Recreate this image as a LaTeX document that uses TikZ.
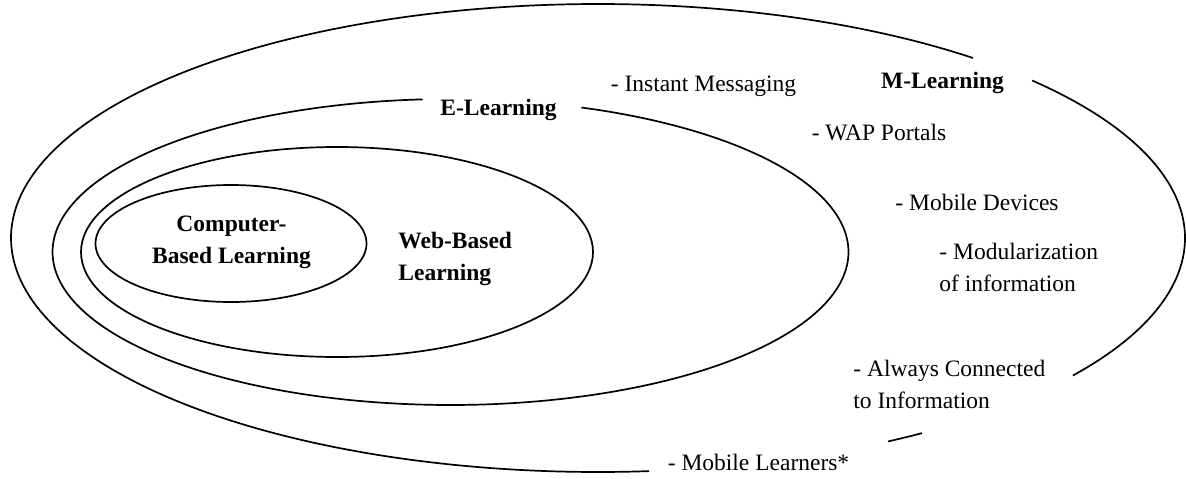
\documentclass[tikz,border=0pt]{standalone}
\usepackage{fontspec}
\setmainfont{Liberation Serif}
\begin{document}
\begin{tikzpicture}[x=0.5pt,y=0.5pt,
  line/.style={line width=0.85pt},
  lbl/.style={font=\fontsize{11.75}{15.75}\selectfont, inner sep=0pt},
  bold/.style={font=\fontsize{11.75}{15.75}\selectfont\bfseries, inner sep=0pt}]
\useasboundingbox (0,0) rectangle (1186,478);
% outer ellipse (M-Learning), with gaps
\draw[line] plot[domain=50.3:275,samples=200,smooth] ({598+587*cos(\x)},{240+234*sin(\x)});
\draw[line] plot[domain=42.3:-36,samples=100,smooth] ({598+587*cos(\x)},{240+234*sin(\x)});
\draw[line] plot[domain=-56.5:-60.4,samples=10,smooth] ({598+587*cos(\x)},{240+234*sin(\x)});
% E-Learning ellipse with gap
\draw[line] plot[domain=94:430.8,samples=250,smooth] ({450.5+398*cos(\x)},{226+153*sin(\x)});
% Web-based ellipse
\draw[line] (337,226) ellipse[x radius=256, y radius=105];
% Computer-based ellipse
\draw[line] (231,234.5) ellipse[x radius=135.5, y radius=58.5];
% labels
\node[bold] (el) at (498.5,368) {E-Learning};
\node[bold] (ml) at (942.5,395) {M-Learning};
\node[bold, align=center] (cbl) at (231.5,235.5) {Computer-\\Based Learning};
\node[bold, align=left, anchor=west] (wbl) at (398,219) {Web-Based\\Learning};
\node[lbl] (im) at (703.5,392) {- Instant Messaging};
\node[lbl] (wap) at (879,345) {- WAP Portals};
\node[lbl] (md) at (977,276) {- Mobile Devices};
\node[lbl, align=left, anchor=west] (mod) at (939,210.5) {- Modularization\\of information};
\node[lbl, align=left, anchor=west] (acon) at (853,93.5) {- Always Connected\\to Information};
\node[lbl] (mlr) at (758.5,16) {- Mobile Learners*};
\end{tikzpicture}
\end{document}
